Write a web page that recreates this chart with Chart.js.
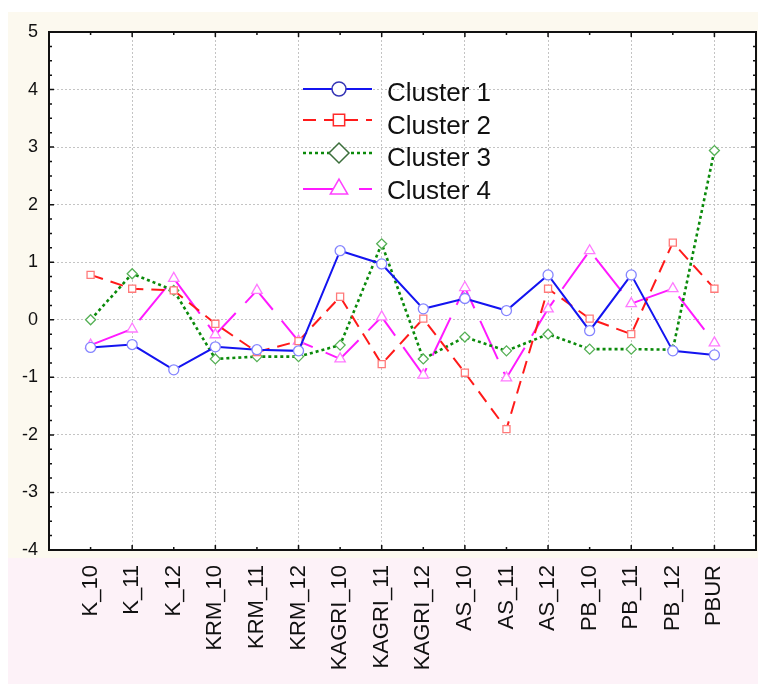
<!DOCTYPE html>
<html>
<head>
<meta charset="utf-8">
<script src="https://cdn.jsdelivr.net/npm/chart.js@4/dist/chart.umd.min.js"></script>
<style>
  html, body { margin: 0; padding: 0; background: #ffffff; }
  #wrap { width: 758px; height: 684px; position: relative; }
</style>
</head>
<body>
<div id="wrap"><canvas id="c" width="758" height="684"></canvas></div>
<script>
const categories = ['K_10','K_11','K_12','KRM_10','KRM_11','KRM_12','KAGRI_10','KAGRI_11','KAGRI_12','AS_10','AS_11','AS_12','PB_10','PB_11','PB_12','PBUR'];
const seriesNames = ['Cluster 1','Cluster 2','Cluster 3','Cluster 4'];
const cluster1 = [-0.48, -0.43, -0.87, -0.47, -0.52, -0.54, 1.20, 0.97, 0.19, 0.37, 0.16, 0.78, -0.19, 0.78, -0.54, -0.61];
const cluster2 = [0.78, 0.54, 0.51, -0.07, -0.56, -0.37, 0.40, -0.77, 0.02, -0.92, -1.90, 0.54, 0.02, -0.25, 1.34, 0.54];
const cluster3 = [0.00, 0.80, 0.51, -0.68, -0.64, -0.64, -0.44, 1.32, -0.68, -0.30, -0.54, -0.25, -0.51, -0.51, -0.52, 2.94];
const cluster4 = [-0.44, -0.16, 0.72, -0.26, 0.51, -0.37, -0.68, 0.05, -0.96, 0.56, -1.01, 0.19, 1.20, 0.28, 0.54, -0.40];
const yTicks = [-4, -3, -2, -1, 0, 1, 2, 3, 4, 5];

const FONT = "'Liberation Sans', Arial, sans-serif";

// category slots: one empty slot on each side of the data
const labels = [''].concat(categories, ['']);
function pad(arr) { return [null].concat(arr, [null]); }

const styles = [
  { color: '#1414f0', point: 'circle', pColor: '#8585ff', r: 5, dash: [], width: 2, lColor: '#3535b5', lr: 7 },
  { color: '#ff1a1a', point: 'rect', pColor: '#ff7a7a', r: 5, dash: [13, 8], width: 2, lColor: '#ff2a2a', lr: 8 },
  { color: '#0a8a0a', point: 'rectRot', pColor: '#55b055', r: 5, dash: [3, 3], width: 2.6, lColor: '#3b6e3b', lr: 10 },
  { color: '#ff1aff', point: 'triangle', pColor: '#ff7aff', r: 6, dash: [42, 14], width: 2, lColor: '#ff40ff', lr: 10 }
];
const values = [cluster1, cluster2, cluster3, cluster4];

const datasets = values.map((v, i) => ({
  label: seriesNames[i],
  data: pad(v),
  borderColor: styles[i].color,
  borderWidth: styles[i].width,
  borderDash: styles[i].dash,
  pointStyle: styles[i].point,
  pointRadius: styles[i].r,
  pointBorderColor: styles[i].pColor,
  pointBackgroundColor: '#ffffff',
  pointBorderWidth: 1.3,
  tension: 0,
  fill: false
}));

const bgPlugin = {
  id: 'bg',
  beforeDraw(chart) {
    const ctx = chart.ctx, a = chart.chartArea;
    ctx.save();
    ctx.fillStyle = '#ffffff';
    ctx.fillRect(0, 0, chart.width, chart.height);
    ctx.fillStyle = '#fcf9ef';
    ctx.fillRect(8, 12, chart.width - 8, 546);
    ctx.fillStyle = '#fdf2f8';
    ctx.fillRect(8, 558, chart.width - 8, chart.height - 558);
    ctx.fillStyle = '#ffffff';
    ctx.fillRect(a.left, a.top, a.right - a.left, a.bottom - a.top);
    ctx.restore();
  }
};

const framePlugin = {
  id: 'frame',
  afterDraw(chart) {
    const ctx = chart.ctx, a = chart.chartArea;
    const xs = chart.scales.x, ys = chart.scales.y;
    ctx.save();
    ctx.strokeStyle = '#111111';
    ctx.lineWidth = 2;
    ctx.strokeRect(a.left, a.top, a.right - a.left, a.bottom - a.top);
    ctx.lineWidth = 1.5;
    ctx.beginPath();
    for (let k = 0; k <= 36; k++) {
      const v = -4 + k * 0.25;
      const py = ys.getPixelForValue(v);
      const len = (k % 4 === 0) ? 5 : 3;
      ctx.moveTo(a.left, py); ctx.lineTo(a.left + len, py);
      ctx.moveTo(a.right, py); ctx.lineTo(a.right - len, py);
    }
    for (let i = 1; i <= categories.length; i++) {
      const px = xs.getPixelForValue(i);
      const len = (i % 2 === 0) ? 5 : 3;
      ctx.moveTo(px, a.top); ctx.lineTo(px, a.top + len);
      ctx.moveTo(px, a.bottom); ctx.lineTo(px, a.bottom - len);
    }
    ctx.stroke();
    ctx.restore();
  }
};

const legendPlugin = {
  id: 'customLegend',
  afterDraw(chart) {
    const ctx = chart.ctx;
    const rowsLine = [89, 120, 153, 189];
    const rowsText = [101, 134, 166, 199];
    ctx.save();
    chart.data.datasets.forEach((ds, i) => {
      const st = styles[i];
      const y = rowsLine[i];
      ctx.save();
      ctx.strokeStyle = st.color;
      ctx.lineWidth = st.width;
      ctx.setLineDash(st.dash);
      ctx.beginPath();
      ctx.moveTo(303, y); ctx.lineTo(372, y);
      ctx.stroke();
      ctx.restore();
      ctx.save();
      ctx.setLineDash([]);
      ctx.lineWidth = 1.5;
      ctx.strokeStyle = st.lColor;
      ctx.fillStyle = '#ffffff';
      Chart.helpers.drawPoint(ctx, { pointStyle: st.point, radius: st.lr, rotation: 0, borderWidth: 1.5 }, 339, y);
      ctx.restore();
      ctx.fillStyle = '#111111';
      ctx.font = '26px ' + FONT;
      ctx.textBaseline = 'alphabetic';
      ctx.textAlign = 'left';
      ctx.fillText(ds.label, 387, rowsText[i]);
    });
    ctx.restore();
  }
};

new Chart(document.getElementById('c'), {
  type: 'line',
  data: { labels: labels, datasets: datasets },
  plugins: [bgPlugin, framePlugin, legendPlugin],
  options: {
    responsive: false,
    animation: false,
    devicePixelRatio: 1,
    layout: { autoPadding: false, padding: { top: 32, right: 2, left: 0, bottom: 0 } },
    plugins: { legend: { display: false }, tooltip: { enabled: false } },
    scales: {
      x: {
        type: 'category',
        offset: false,
        afterFit(scale) { scale.height = 134; scale.paddingLeft = 0; scale.paddingRight = 0; },
        grid: {
          drawTicks: false,
          lineWidth: 1,
          color: (c) => (c.index > 0 && c.index < labels.length - 1 && c.index % 2 === 0) ? '#c4c4c4' : 'rgba(0,0,0,0)'
        },
        border: { display: false, dash: [2, 2] },
        ticks: {
          autoSkip: false,
          maxRotation: 90,
          minRotation: 90,
          padding: 15,
          color: '#111111',
          font: { family: FONT, size: 22 }
        }
      },
      y: {
        min: -4,
        max: 5,
        afterFit(scale) { scale.width = 49; scale.paddingTop = 0; scale.paddingBottom = 0; },
        afterBuildTicks(scale) { scale.ticks = yTicks.map(v => ({ value: v })); },
        grid: {
          drawTicks: false,
          lineWidth: 1,
          color: (c) => (c.tick && c.tick.value > -4 && c.tick.value < 5) ? '#c4c4c4' : 'rgba(0,0,0,0)'
        },
        border: { display: false, dash: [2, 2] },
        ticks: {
          padding: 11,
          color: '#111111',
          font: { family: FONT, size: 18 }
        }
      }
    }
  }
});
</script>
</body>
</html>
